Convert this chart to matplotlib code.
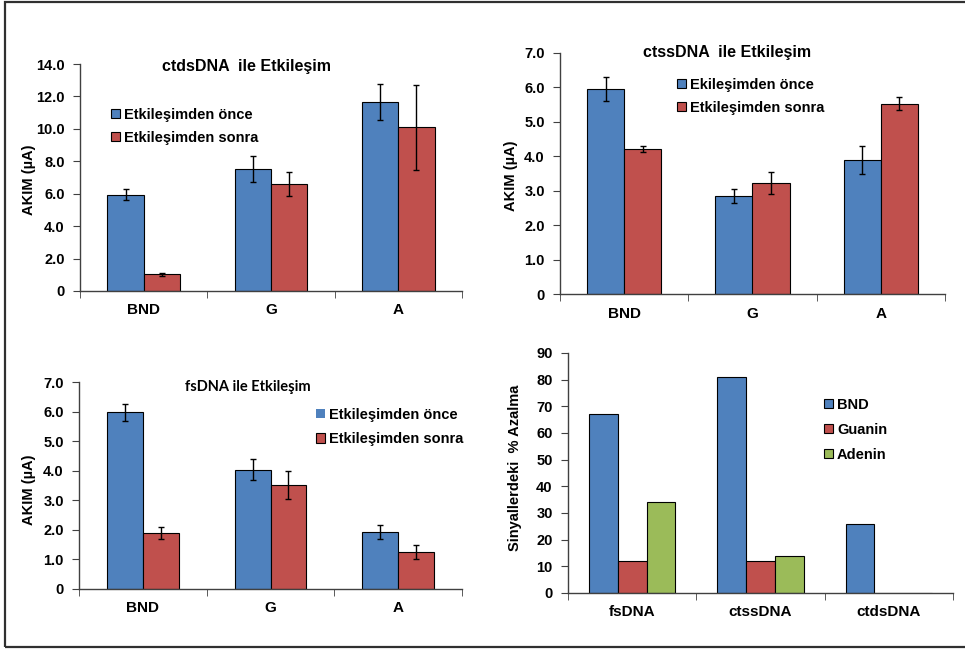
import matplotlib
matplotlib.use("Agg")
import matplotlib.pyplot as plt
from matplotlib.patches import Rectangle, Patch
from matplotlib.ticker import FuncFormatter
import numpy as np

plt.rcParams['font.family'] = ['Liberation Sans', 'DejaVu Sans']

BLUE = '#4F81BD'
RED = '#C0504D'
GREEN = '#9BBB59'

cats = ['BND', 'G', 'A']

# Panel 1: ctdsDNA
ctds_before = [5.95, 7.52, 11.67]
ctds_before_err = [0.33, 0.82, 1.10]
ctds_after = [1.03, 6.60, 10.10]
ctds_after_err = [0.08, 0.75, 2.62]

# Panel 2: ctssDNA
ctss_before = [5.95, 2.84, 3.90]
ctss_before_err = [0.35, 0.20, 0.40]
ctss_after = [4.21, 3.22, 5.53]
ctss_after_err = [0.08, 0.32, 0.18]

# Panel 3: fsDNA
fs_before = [5.97, 4.04, 1.92]
fs_before_err = [0.29, 0.36, 0.24]
fs_after = [1.88, 3.51, 1.25]
fs_after_err = [0.20, 0.47, 0.25]

# Panel 4: % decrease
dna_types = ['fsDNA', 'ctssDNA', 'ctdsDNA']
dec_bnd = [67, 81, 26]
dec_guanin = [12, 12, 0]
dec_adenin = [34, 14, 0]

W, H = 965, 650
fig = plt.figure(figsize=(W / 100, H / 100), dpi=100)


def ax_px(l, r, t, b):
    ax = fig.add_axes([l / W, 1 - b / H, (r - l) / W, (b - t) / H])
    ax._px = (l, r, t, b)
    return ax


def zero_fmt(dec):
    def f(v, p):
        if abs(v) < 1e-9:
            return '0'
        return f'{v:.{dec}f}'
    return FuncFormatter(f)


def style(ax, ymax, ystep, dec, labels):
    for s in ['top', 'right']:
        ax.spines[s].set_visible(False)
    for s in ['left', 'bottom']:
        ax.spines[s].set_color('#404040')
        ax.spines[s].set_linewidth(1.0)
    ax.set_ylim(0, ymax)
    ax.set_xlim(-0.5, len(labels) - 0.5)
    ax.set_yticks(np.arange(0, ymax + 1e-9, ystep))
    ax.yaxis.set_major_formatter(zero_fmt(dec))
    ax.set_xticks(range(len(labels)))
    ax.set_xticklabels(labels)
    ax.set_xticks(np.arange(-0.5, len(labels), 1.0), minor=True)
    ax.tick_params(axis='x', which='major', length=0, pad=9, labelsize=11)
    ax.tick_params(axis='x', which='minor', length=5, direction='out', color='#404040')
    ax.tick_params(axis='y', length=5, direction='out', color='#404040', labelsize=10.5, pad=6)
    for lab in ax.get_xticklabels() + ax.get_yticklabels():
        lab.set_fontweight('bold')


def set_ylabel_px(ax, text, xc_px, yc_px, fs=10.5):
    ax.set_ylabel(text, fontsize=fs, fontweight='bold')
    l, r, t, b = ax._px
    ax.yaxis.set_label_coords((xc_px - l) / (r - l), (b - yc_px) / (b - t))


def pair_panel(ax, before, be, after, ae, bw):
    x = np.arange(len(cats))
    ekw = dict(ecolor='black', elinewidth=1.0, capsize=2.5, capthick=1.0)
    ax.bar(x - bw / 2, before, bw, color=BLUE, edgecolor='black', linewidth=0.8,
           yerr=be, error_kw=ekw, zorder=2)
    ax.bar(x + bw / 2, after, bw, color=RED, edgecolor='black', linewidth=0.8,
           yerr=ae, error_kw=ekw, zorder=2)


# Panel 1
ax1 = ax_px(80, 462, 64, 291)
pair_panel(ax1, ctds_before, ctds_before_err, ctds_after, ctds_after_err, 0.285)
style(ax1, 14.0, 2.0, 1, cats)
set_ylabel_px(ax1, 'AKIM (µA)', 36, 180)
fig.text(247 / W, 1 - 67 / H, 'ctdsDNA  ile Etkileşim', ha='center', va='center',
         fontsize=11.5, fontweight='bold')

# Panel 2
ax2 = ax_px(560, 945, 53, 294)
pair_panel(ax2, ctss_before, ctss_before_err, ctss_after, ctss_after_err, 0.29)
style(ax2, 7.0, 1.0, 1, cats)
set_ylabel_px(ax2, 'AKIM (µA)', 518, 176)
fig.text(727 / W, 1 - 52 / H, 'ctssDNA  ile Etkileşim', ha='center', va='center',
         fontsize=11.5, fontweight='bold')

# Panel 3
ax3 = ax_px(79, 462, 382, 589)
pair_panel(ax3, fs_before, fs_before_err, fs_after, fs_after_err, 0.28)
style(ax3, 7.0, 1.0, 1, cats)
set_ylabel_px(ax3, 'AKIM (µA)', 36, 490)
fig.text(248 / W, 1 - 387 / H, 'fsDNA ile Etkileşim', ha='center', va='center',
         fontsize=10.5, fontweight='bold', family=['Lato', 'DejaVu Sans'])

# Panel 4
ax4 = ax_px(568, 953, 353, 593)
x = np.arange(len(dna_types))
bw = 0.225
ax4.bar(x - bw, dec_bnd, bw, color=BLUE, edgecolor='black', linewidth=0.8, zorder=2)
ax4.bar(x, dec_guanin, bw, color=RED, edgecolor='black', linewidth=0.8, zorder=2)
ax4.bar(x + bw, dec_adenin, bw, color=GREEN, edgecolor='black', linewidth=0.8, zorder=2)
style(ax4, 90, 10, 0, dna_types)
set_ylabel_px(ax4, 'Sinyallerdeki  % Azalma', 522, 468, fs=10.5)


# Legends
def add_legend(handles, labels, anchor_px, spacing, fs=10.5):
    return fig.legend(handles, labels, loc='upper left',
                      bbox_to_anchor=(anchor_px[0] / W, 1 - anchor_px[1] / H),
                      frameon=False, handlelength=0.6, handleheight=0.6,
                      handletextpad=0.3, labelspacing=spacing, borderpad=0,
                      borderaxespad=0, prop=dict(weight='bold', size=fs))


def ph(c):
    return Patch(facecolor=c, edgecolor='black', linewidth=0.8)


add_legend([ph(BLUE), ph(RED)], ['Etkileşimden önce', 'Etkileşimden sonra'],
           (111, 108), 0.6)
add_legend([ph(BLUE), ph(RED)], ['Ekileşimden önce', 'Etkileşimden sonra'],
           (677, 78), 0.6)
add_legend([Patch(facecolor=BLUE, edgecolor='none'), ph(RED)],
           ['Etkileşimden önce', 'Etkileşimden sonra'],
           (316, 408), 0.7)
add_legend([ph(BLUE), ph(RED), ph(GREEN)], ['BND', 'Guanin', 'Adenin'],
           (824, 398), 0.75)

# Outer border
fig.add_artist(Rectangle((5 / W, 1 - 646.5 / H), 1.0, (646.5 - 1.5) / H,
                         transform=fig.transFigure, fill=False,
                         edgecolor='#303030', linewidth=1.6, clip_on=False))

fig.savefig('out.png', dpi=100)
